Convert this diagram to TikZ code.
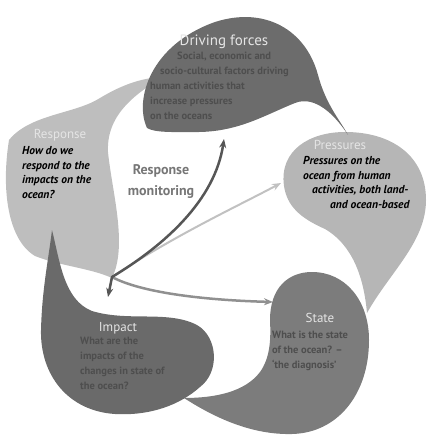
\documentclass[tikz,border=0pt]{standalone}
\usepackage{fontspec}
\setmainfont{PT Sans}
\usetikzlibrary{arrows.meta}
\definecolor{drivegray}{RGB}{108,108,108}
\definecolor{pressgray}{RGB}{182,182,182}
\definecolor{stategray}{RGB}{124,124,124}
\definecolor{impactgray}{RGB}{106,106,106}
\definecolor{respgray}{RGB}{190,190,190}
\definecolor{darktext}{RGB}{78,78,78}
\definecolor{monitext}{RGB}{118,118,118}

\begin{document}
\begin{tikzpicture}[line cap=round,line join=round,x=1pt,y=-1pt,
    title/.style={text=white!90!black,font=\fontsize{13}{15}\selectfont,inner sep=0pt},
    darkbody/.style={text=darktext,font=\fontsize{10.5}{15}\selectfont\bfseries,align=left,anchor=north west,inner sep=0pt},
    lightbody/.style={text=black,font=\fontsize{11.5}{14.8}\selectfont\bfseries\itshape,align=left,anchor=north west,inner sep=0pt},
    flow/.style={line width=2.5pt,-{Stealth[length=9pt,width=7pt]}}]

    \useasboundingbox (0,0) rectangle (427,435);
	%\draw [step=20pt,very thin,gray] (0,0) grid (427,435);

    % the five drops, back to front
    \fill [respgray] (9,140) .. controls (30,114) and (75,114) .. (100,98)
        .. controls (120,86) and (140,78) .. (162,77)
        .. controls (140,92) and (106,112) .. (108,152)
        .. controls (112,192) and (128,245) .. (112,278)
        .. controls (90,268) and (60,266) .. (35,256)
        .. controls (8,240) and (1,190) .. (9,140) -- cycle;
    \fill [stategray] (270,320) .. controls (270,288) and (288,272) .. (312,272)
        .. controls (345,272) and (369,300) .. (369,340)
        .. controls (369,395) and (337,433) .. (292,434)
        .. controls (252,435) and (215,418) .. (184,398)
        .. controls (215,398) and (245,392) .. (260,372)
        .. controls (270,358) and (271,340) .. (270,320) -- cycle;
    \fill [impactgray] (52,230) .. controls (60,262) and (64,300) .. (92,311)
        .. controls (128,322) and (168,310) .. (197,325)
        .. controls (218,337) and (220,372) .. (200,387)
        .. controls (180,405) and (150,416) .. (115,414)
        .. controls (68,411) and (40,375) .. (41,330)
        .. controls (42,290) and (48,262) .. (52,230) -- cycle;
    \fill [pressgray] (284,186) .. controls (279,150) and (310,132) .. (345,132)
        .. controls (392,132) and (426,156) .. (426,200)
        .. controls (426,242) and (390,272) .. (367,313)
        .. controls (364,280) and (354,246) .. (325,229)
        .. controls (300,218) and (287,206) .. (284,186) -- cycle;
    \fill [drivegray] (147,128) .. controls (134,100) and (150,45) .. (215,22)
        .. controls (265,6) and (306,30) .. (318,75)
        .. controls (326,105) and (340,120) .. (348,135)
        .. controls (335,115) and (315,95) .. (295,103)
        .. controls (265,115) and (240,131) .. (200,132)
        .. controls (175,132) and (155,133) .. (147,128) -- cycle;

    % titles
    \node [title,font=\fontsize{15}{17}\selectfont] (drvtitle) at (224,42) {Driving forces};
    \node [title] (prstitle) at (340,145) {Pressures};
    \node [title] (statitle) at (320,318) {State};
    \node [title] (imptitle) at (118,328) {Impact};
    \node [title] (restitle) at (60,135) {Response};

    % texts in the drops
    \node [darkbody] (drvtext) at (150,52) {\hspace*{27pt}Social, economic and\\
        \hspace*{10pt}socio-cultural factors driving\\human activities that\\
        increase pressures\\on the oceans};
    \node [lightbody] (prstext) at (303,156) {Pressures on the\\ocean from human\\
        \hspace*{9pt}activities, both land-\\\hspace*{27pt}and ocean-based};
    \node [darkbody] (statext) at (272,331) {What is the state\\of the ocean? --\\
        `the diagnosis'};
    \node [darkbody] (imptext) at (80,337) {What are the\\impacts of the\\
        changes in state of\\the ocean?};
    \node [lightbody] (restext) at (22,146) {How do we\\respond to the\\
        impacts on the\\ocean?};

    \node [text=monitext,font=\fontsize{14}{21}\selectfont\bfseries,align=center]
        (monitor) at (161,182) {Response\\monitoring};

    % arrows from the response
    \coordinate (hub) at (112,277);
    \coordinate (drvin) at (224,139);
    \coordinate (prsin) at (281,183);
    \coordinate (stain) at (273,302);
    \coordinate (impin) at (108,297);

    \draw [flow,color=pressgray!85!white,line width=2pt] (hub) .. controls (175,235) and (240,205) .. (prsin);
    \draw [flow,color=stategray!85!white] (hub) .. controls (140,292) and (200,300) .. (stain);
    \draw [flow,color=drivegray!80!black] (hub) .. controls (165,245) and (215,200) .. (drvin);
    \draw [flow,color=impactgray!80!black] (hub) -- (impin);
\end{tikzpicture}
\end{document}
